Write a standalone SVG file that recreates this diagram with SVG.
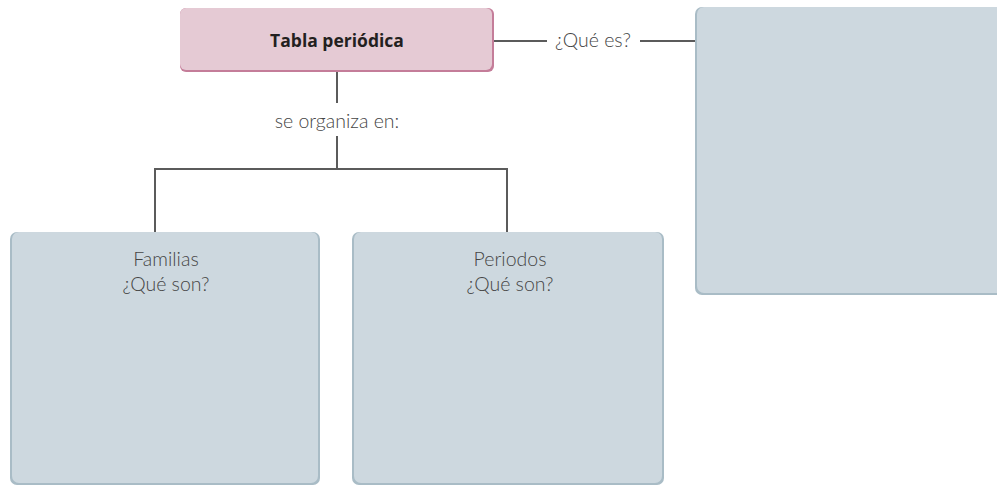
<svg xmlns="http://www.w3.org/2000/svg" width="997" height="485" viewBox="0 0 997 485">
<style>
.lbl{font-family:Lato,"Open Sans","Liberation Sans",sans-serif;font-weight:300;font-size:19.5px;fill:#454545;text-anchor:middle}
.title{font-family:"Open Sans",Lato,"Liberation Sans",sans-serif;font-weight:700;font-size:17.5px;fill:#231f20;text-anchor:middle}
.conn{stroke:#5b5b5b;stroke-width:2;fill:none}
.bshadow{fill:#a9bcc6}
.bfill{fill:#cdd8df}
.pshadow{fill:#c47d99}
.pfill{fill:#e5cad4}
</style>
<g id="connectors">
<path class="conn" d="M493 41 H547 M640 41 H696"/>
<path class="conn" d="M337 71 V103 M337 136 V169 M155 169 H507 M155 168 V232 M507 168 V232"/>
</g>
<g id="node-tabla">
<rect class="pshadow" x="180" y="8" width="314" height="64" rx="6"/>
<rect class="pfill" x="180" y="8" width="312" height="62" rx="6"/>
<text class="title" x="337" y="47">Tabla periódica</text>
</g>
<g id="label-que-es">
<text class="lbl" x="593" y="47">¿Qué es?</text>
</g>
<g id="label-organiza">
<text class="lbl" x="337" y="128">se organiza en:</text>
</g>
<g id="node-que-es">
<rect class="bshadow" x="695" y="7" width="320" height="288" rx="7"/>
<rect class="bfill" x="697" y="7" width="320" height="286" rx="7"/>
</g>
<g id="node-familias">
<rect class="bshadow" x="10" y="232" width="310" height="253" rx="7"/>
<rect class="bfill" x="12" y="232" width="306" height="251" rx="7"/>
<text class="lbl" x="166" y="266">Familias</text>
<text class="lbl" x="166" y="291">¿Qué son?</text>
</g>
<g id="node-periodos">
<rect class="bshadow" x="352" y="232" width="312" height="253" rx="7"/>
<rect class="bfill" x="354" y="232" width="308" height="251" rx="7"/>
<text class="lbl" x="510" y="266">Periodos</text>
<text class="lbl" x="510" y="291">¿Qué son?</text>
</g>
</svg>
